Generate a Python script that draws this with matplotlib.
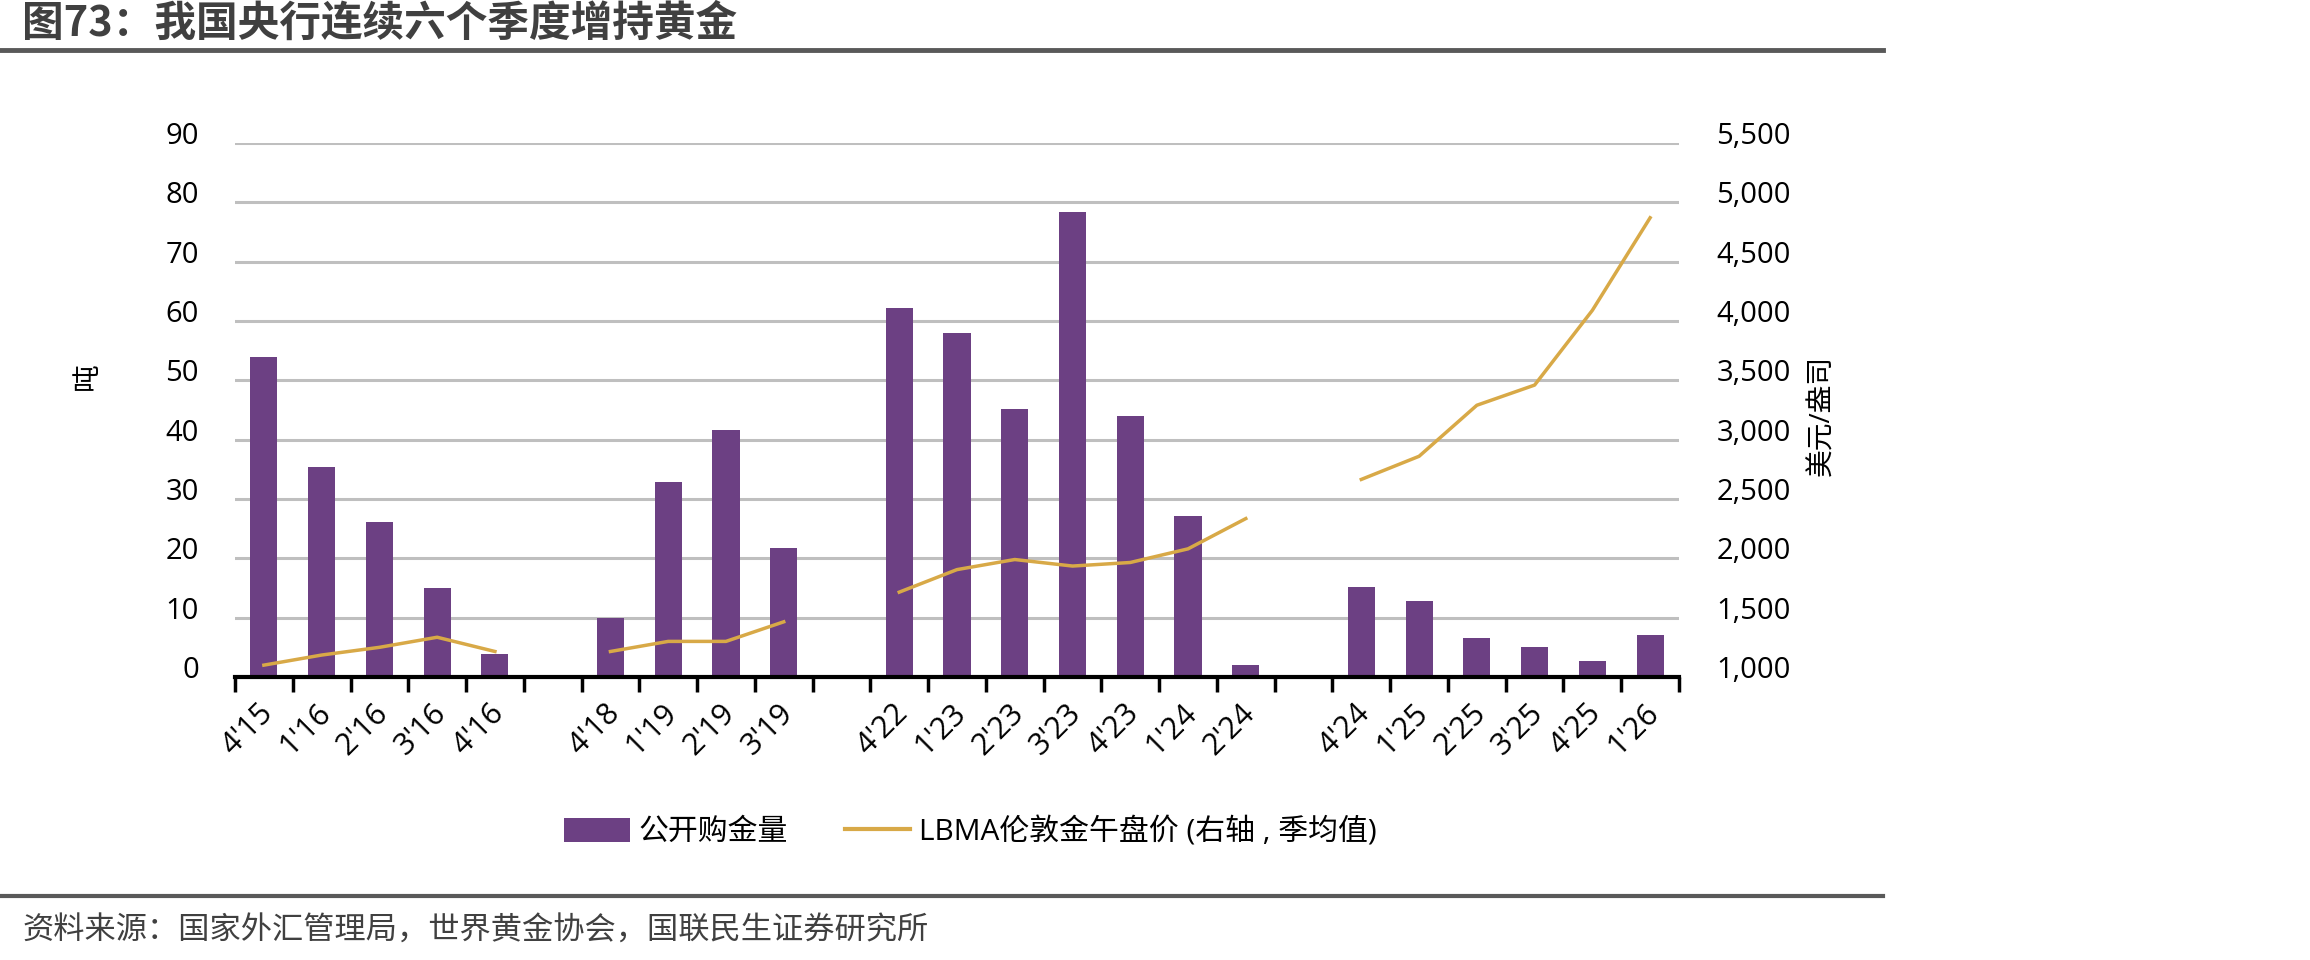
import matplotlib
matplotlib.use("Agg")
import matplotlib.pyplot as plt
import numpy as np
from matplotlib.lines import Line2D
from matplotlib.patches import Patch
from matplotlib.transforms import ScaledTranslation

plt.rcParams['font.family'] = ['Open Sans', 'Noto Sans CJK SC', 'DejaVu Sans']

# ---- data ----
categories = ["4'15", "1'16", "2'16", "3'16", "4'16", "",
              "4'18", "1'19", "2'19", "3'19", "",
              "4'22", "1'23", "2'23", "3'23", "4'23", "1'24", "2'24", "",
              "4'24", "1'25", "2'25", "3'25", "4'25", "1'26"]
purchases = [53.9, 35.4, 26.1, 15.0, 3.8, np.nan,
             10.0, 32.8, 41.6, 21.8, np.nan,
             62.2, 57.9, 45.2, 78.4, 44.0, 27.2, 2.0, np.nan,
             15.2, 12.8, 6.5, 5.1, 2.7, 7.0]
gold_price = [1100, 1185, 1250, 1335, 1215, np.nan,
              1215, 1300, 1300, 1465, np.nan,
              1715, 1905, 1990, 1935, 1965, 2080, 2335, np.nan,
              2665, 2860, 3290, 3460, 4090, 4870]
left_ticks = [0, 10, 20, 30, 40, 50, 60, 70, 80, 90]
right_ticks = [1000, 1500, 2000, 2500, 3000, 3500, 4000, 4500, 5000, 5500]

title = "图73：我国央行连续六个季度增持黄金"
source = "资料来源：国家外汇管理局，世界黄金协会，国联民生证券研究所"
bar_label = "公开购金量"
line_label = "LBMA伦敦金午盘价 (右轴 , 季均值)"

# ---- styles ----
BAR_C = "#6C4083"
LINE_C = "#D8A947"
GRID_C = "#BFBFBF"
TXT = "#000000"
HEAD_C = "#404040"

W, H = 2310, 960
fig = plt.figure(figsize=(W / 100, H / 100), dpi=100)

ax = fig.add_axes([235 / W, 1 - 677 / H, (1679 - 235) / W, (677 - 143) / H])
ax2 = ax.twinx()

x = np.arange(len(categories))
ax.bar(x, purchases, width=0.47, color=BAR_C, zorder=3)
ax2.plot(x, gold_price, color=LINE_C, lw=2.5, zorder=4)

ax.set_xlim(-0.5, len(categories) - 0.5)
ax.set_ylim(0, 90)
ax2.set_ylim(1000, 5500)
ax.set_yticks(left_ticks)
ax2.set_yticks(right_ticks)
ax2.set_yticklabels([f"{v:,}" for v in right_ticks])

ax.yaxis.grid(True, color=GRID_C, lw=2.2, zorder=0)
ax.set_axisbelow(True)
for a in (ax, ax2):
    for s in a.spines.values():
        s.set_visible(False)
ax.spines['bottom'].set_visible(True)
ax.spines['bottom'].set_linewidth(3)
ax.spines['bottom'].set_color('black')
ax.spines['bottom'].set_zorder(5)

# x ticks at boundaries, labels at centers
ax.set_xticks(np.arange(-0.5, len(categories) + 0.5, 1.0))
ax.set_xticklabels([])
ax.tick_params(axis='x', which='major', direction='out', length=11, width=2.5, color='black')
ax.set_xticks(x, minor=True)
ax.set_xticklabels(categories, minor=True, rotation=45, ha='right', va='top',
                   rotation_mode='anchor', fontsize=22, color=TXT)
ax.tick_params(axis='x', which='minor', length=0, pad=15)
for lbl in ax.get_xticklabels(minor=True):
    lbl.set_transform(lbl.get_transform() + ScaledTranslation(-0.06, 0, fig.dpi_scale_trans))

ax.tick_params(axis='y', length=0, pad=26, labelsize=21, labelcolor=TXT)
ax2.tick_params(axis='y', length=0, pad=27, labelsize=21, labelcolor=TXT)
for lbl in ax.get_yticklabels() + ax2.get_yticklabels():
    lbl.set_transform(lbl.get_transform() + ScaledTranslation(0, 0.1, fig.dpi_scale_trans))

fig.text(88 / W, 1 - 376 / H, "吨", rotation=90, ha='center', va='center',
         fontsize=20, color=TXT)
fig.text(1822 / W, 1 - 415 / H, "美元/盎司", rotation=90, ha='center', va='center',
         fontsize=20, color=TXT)

# title & rules
fig.text(22 / W, 1 - 24 / H, title, fontsize=30, fontweight='bold', color=HEAD_C,
         ha='left', va='center', family=['Noto Sans CJK SC'])
fig.add_artist(Line2D([0, 1883 / W], [1 - 50 / H, 1 - 50 / H], color='#595959', lw=3.5))
fig.add_artist(Line2D([0, 1883 / W], [1 - 896 / H, 1 - 896 / H], color='#595959', lw=3))
fig.text(22 / W, 1 - 931 / H, source, fontsize=22.5, color=HEAD_C, ha='left', va='center',
         family=['Noto Sans CJK SC'], fontweight='light')

# legend
handles = [Patch(facecolor=BAR_C, edgecolor='none'),
           Line2D([0], [0], color=LINE_C, lw=3)]
fig.legend(handles, [bar_label, line_label], loc='center left',
           bbox_to_anchor=(537 / W, 1 - 832 / H), ncol=2, frameon=False,
           fontsize=21.5, handlelength=2.2, handleheight=0.85, handletextpad=0.3,
           columnspacing=1.9)

fig.savefig("out.png", dpi=100, facecolor='white')
